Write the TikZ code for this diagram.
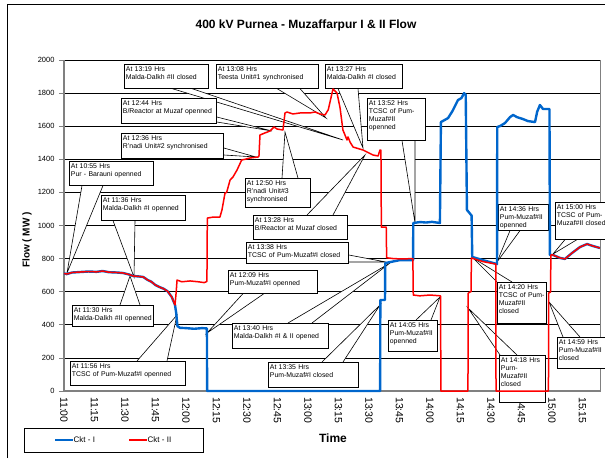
\documentclass[tikz,border=0pt]{standalone}
\usepackage{fontspec}
\setmainfont{Liberation Sans}
\usetikzlibrary{calc}

\definecolor{cktblue}{RGB}{0,102,204}
\definecolor{cktred}{RGB}{255,0,0}
\definecolor{axisgray}{RGB}{128,128,128}

\pgfdeclarelayer{gridlayer}
\pgfdeclarelayer{wedgelayer}
\pgfsetlayers{gridlayer,wedgelayer,main}

\tikzset{
  callout/.style={draw, fill=white, line width=0.6pt, anchor=north west, align=left,
    inner xsep=1.6pt, inner ysep=2.4pt, text height=5pt, font=\fontsize{6.9}{8}\selectfont},
  wedge/.style={draw, fill=white, line width=0.6pt},
  grid line/.style={line width=0.8pt},
  ckt1/.style={cktblue, line width=2.4pt, line join=round},
  ckt2/.style={cktred, line width=1.5pt, line join=round},
}

\begin{document}
\begin{tikzpicture}[x=1pt,y=-1pt]
\useasboundingbox (0,0) rectangle (605,458);

% frame, grid and axes
\begin{pgfonlayer}{gridlayer}
\draw[line width=0.8pt] (7,458) -- (7,4) -- (605,4);
\begin{scope}[shift={(64,391)}, x=2.033pt, y=0.1655pt]
\foreach \v in {200,400,...,2000}
  \draw[grid line] (0,\v) -- (264,\v);
\foreach \v in {0,200,...,2000}
  \draw[axisgray, line width=0.8pt] (-2.5,\v) -- (0,\v);
\draw[axisgray, line width=1.2pt] (0,2000) -- (0,0);
\draw[axisgray, line width=1pt] (264,0) -- (264,2000);
\draw[axisgray, line width=1.8pt] (0,0) -- (264,0);
\end{scope}
\end{pgfonlayer}

\node[font=\bfseries\fontsize{12}{14}\selectfont] (title) at (306,25) {400 kV Purnea - Muzaffarpur I \& II Flow};
\node[rotate=90, font=\bfseries\fontsize{10}{12}\selectfont] (ytitle) at (27,240) {Flow ( MW )};
\node[font=\bfseries\fontsize{12}{14}\selectfont] (xtitle) at (333,438) {Time};

\begin{scope}[shift={(64,391)}, x=2.033pt, y=0.1655pt]
\foreach \v in {0,200,...,2000}
  \node[anchor=east, inner sep=0pt, font=\fontsize{7.5}{9}\selectfont] (ylab\v) at (-4.6,\v) {\v};
\foreach \m/\lab in {0/11:00,15/11:15,30/11:30,45/11:45,60/12:00,75/12:15,90/12:30,105/12:45,120/13:00,
    135/13:15,150/13:30,165/13:45,180/14:00,195/14:15,210/14:30,225/14:45,240/15:00,255/15:15}
  \node[rotate=-90, anchor=west, inner sep=0pt, font=\fontsize{10.5}{12}\selectfont] (tlab\m) at (\m,-36) {\lab};
\end{scope}

% callout boxes
\node[callout, text width=81pt, text depth=14.2pt] (c1319) at (124,64) {At 13:19 Hrs\\Malda-Dalkh \#II closed};
\node[callout, text width=99pt, text depth=14.2pt] (c1308) at (216,64) {At 13:08 Hrs\\Teesta Unit\#1 synchronised};
\node[callout, text width=74pt, text depth=14.2pt] (c1327) at (325,64) {At 13:27 Hrs\\Malda-Dalkh \#I closed};
\node[callout, text width=92pt, text depth=15.2pt] (c1244) at (121,98) {At 12:44 Hrs\\B/Reactor at Muzaf openned};
\node[callout, text width=99pt, text depth=15.2pt] (c1236) at (121,133) {At 12:36 Hrs\\R'nadi Unit\#2 synchronised};
\node[callout, text width=81pt, text depth=14.2pt] (c1055) at (69,161) {At 10:55 Hrs\\Pur - Barauni openned};
\node[callout, text width=81pt, text depth=15.2pt] (c1136) at (101,195) {At 11:36 Hrs\\Malda-Dalkh \#I openned};
\node[callout, text width=78pt, text depth=11.2pt] (c1130) at (72,305) {At 11:30 Hrs\\Malda-Dalkh \#II openned};
\node[callout, text width=112pt, text depth=14.2pt] (c1156) at (70,361) {At 11:56 Hrs\\TCSC of Pum-Muzaf\#I openned};
\node[callout, text width=86pt, text depth=13.2pt] (c1209) at (228,270) {At 12:09 Hrs\\Pum-Muzaf\#I openned};
\node[callout, text width=93pt, text depth=15.2pt] (c1340) at (232,323) {At 13:40 Hrs\\Malda-Dalkh \#I \& II opened};
\node[callout, text width=87pt, text depth=15.2pt] (c1335) at (268,362) {At 13:35 Hrs\\Pum-Muzaf\#I closed};
\node[callout, text width=99pt, text depth=11.2pt] (c1338) at (246,242) {At 13:38 Hrs\\TCSC of Pum-Muzaf\#I closed};
\node[callout, text width=91pt, text depth=14.2pt] (c1328) at (253,215) {At 13:28 Hrs\\B/Reactor at Muzaf closed};
\node[callout, text width=62pt, text depth=19.2pt] (c1250) at (245,178) {At 12:50 Hrs\\R'nadi Unit\#3\\synchronised};
\node[callout, text width=55pt, text depth=32.2pt] (c1352) at (367,98) {At 13:52 Hrs\\TCSC of Pum-\\Muzaf\#II\\openned};
\node[callout, text width=47pt, text depth=16.2pt] (c1436) at (498,204) {At 14:36 Hrs\\Pum-Muzaf\#II\\openned};
\node[callout, text width=54pt, text depth=27.2pt] (c1500) at (555,202) {At 15:00 Hrs\\TCSC of Pum-\\Muzaf\#II closed};
\node[callout, text width=46pt, text depth=31.2pt] (c1420) at (497,282) {At 14:20 Hrs\\TCSC of Pum-\\Muzaf\#II\\closed};
\node[callout, text width=43pt, text depth=37.2pt] (c1418) at (499,355) {At 14:18 Hrs\\Purn-\\Muzaf\#II\\closed};
\node[callout, text width=46pt, text depth=21.2pt] (c1405) at (388,320) {At 14:05 Hrs\\Pum-Muzaf\#II\\openned};
\node[callout, text width=47pt, text depth=21.2pt] (c1459) at (557,337) {At 14:59 Hrs\\Pum-Muzaf\#II\\closed};

% pointer tips
\coordinate (t1319) at (343,140);
\coordinate (t1308) at (326,118);
\coordinate (t1327) at (363,148);
\coordinate (t1244) at (272,131);
\coordinate (t1236) at (256,157);
\coordinate (t1055) at (67,273);
\coordinate (t1136) at (134,277);
\coordinate (t1130) at (130,276);
\coordinate (t1156) at (177,315);
\coordinate (t1209) at (207,333);
\coordinate (t1340) at (390,263);
\coordinate (t1335) at (380,305);
\coordinate (t1338) at (386,262);
\coordinate (t1328) at (365,155);
\coordinate (t1250) at (285,132);
\coordinate (t1352) at (415,223);
\coordinate (t1436) at (497,262);
\coordinate (t1500) at (553,254);
\coordinate (t1420) at (473,258);
\coordinate (t1418) at (468,308);
\coordinate (t1405) at (440,297);
\coordinate (t1459) at (549,302);

\begin{pgfonlayer}{wedgelayer}
\path[wedge] ($(c1319.south west)+(48,0)$) -- (t1319) -- ($(c1319.south west)+(68,0)$);
\path[wedge] ($(c1308.south west)+(61,0)$) -- (t1308) -- ($(c1308.south west)+(84,0)$);
\path[wedge] ($(c1327.south west)+(13,0)$) -- (t1327) -- ($(c1327.south west)+(33,0)$);
\path[wedge] ($(c1244.north east)+(0,19)$) -- (t1244) -- ($(c1244.north east)+(0,24)$);
\path[wedge] ($(c1236.north east)+(0,15)$) -- (t1236) -- ($(c1236.north east)+(0,22)$);
\path[wedge] ($(c1055.south west)+(13,0)$) -- (t1055) -- ($(c1055.south west)+(34,0)$);
\path[wedge] ($(c1136.south west)+(12,0)$) -- (t1136) -- ($(c1136.south west)+(34,0)$);
\path[wedge] ($(c1130.north west)+(48,0)$) -- (t1130) -- ($(c1130.north west)+(68,0)$);
\path[wedge] ($(c1156.north west)+(67,0)$) -- (t1156) -- ($(c1156.north west)+(97,0)$);
\path[wedge] ($(c1209.south west)+(15,0)$) -- (t1209) -- ($(c1209.south west)+(36,0)$);
\path[wedge] ($(c1340.north west)+(56,0)$) -- (t1340) -- ($(c1340.north west)+(80,0)$);
\path[wedge] ($(c1335.north west)+(54,0)$) -- (t1335) -- ($(c1335.north west)+(75,0)$);
\path[wedge] ($(c1338.north east)+(0,13)$) -- (t1338) -- ($(c1338.north east)+(0,20)$);
\path[wedge] ($(c1328.north west)+(54,0)$) -- (t1328) -- ($(c1328.north west)+(80,0)$);
\path[wedge] ($(c1250.north west)+(37,0)$) -- (t1250) -- ($(c1250.north west)+(53,0)$);
\path[wedge] ($(c1352.south west)+(35,0)$) -- (t1352) -- ($(c1352.south west)+(48,0)$);
\path[wedge] ($(c1436.south west)+(12,0)$) -- (t1436) -- ($(c1436.south west)+(22,0)$);
\path[wedge] ($(c1500.south west)+(10,0)$) -- (t1500) -- ($(c1500.south west)+(22,0)$);
\path[wedge] ($(c1420.north west)+(0,0)$) -- (t1420) -- ($(c1420.north west)+(15,0)$);
\path[wedge] ($(c1418.north west)+(1,0)$) -- (t1418) -- ($(c1418.north west)+(18,0)$);
\path[wedge] ($(c1405.north west)+(28,0)$) -- (t1405) -- ($(c1405.north west)+(43,0)$);
\path[wedge] ($(c1459.north west)+(6,0)$) -- (t1459) -- ($(c1459.north west)+(23,0)$);
\end{pgfonlayer}

% flows
\begin{scope}[shift={(64,391)}, x=2.033pt, y=0.1655pt]
\draw[ckt1] (0,710) -- (1.5,707) -- (4,716) -- (8,719) -- (12,722) -- (16,720) -- (19,725) -- (22,718) -- (26,716)
  -- (29,713) -- (32,704) -- (34,695) -- (37,692) -- (39,689) -- (41,672) -- (43,660) -- (45,640) -- (47,628)
  -- (49,618) -- (51,602) -- (53,568) -- (54.6,520) -- (55.2,470) -- (55.8,392) -- (57,382) -- (60,380)
  -- (64,376) -- (68,380) -- (70.3,378) -- (70.4,0) -- (155.5,0) -- (155.6,550) -- (157.9,550) -- (158,773)
  -- (160.4,779) -- (165.3,791) -- (171.7,791) -- (171.8,1015) -- (175.1,1021) -- (178,1018) -- (181,1022)
  -- (184.9,1015) -- (185.4,1625) -- (188.9,1649) -- (191,1690) -- (193.8,1758) -- (195.5,1770) -- (196.8,1800)
  -- (197.6,1790) -- (198.2,1094) -- (200.5,1060) -- (200.8,810) -- (206,791) -- (213,767) -- (213.1,1595)
  -- (214.5,1601) -- (216.9,1619) -- (219.4,1655) -- (220.9,1668) -- (222.8,1655) -- (225.8,1643) -- (228.2,1631)
  -- (231.7,1625) -- (232.7,1686) -- (234.1,1728) -- (235.6,1704) -- (238.8,1704) -- (239,822) -- (240.5,822)
  -- (244,804) -- (246.4,798) -- (249.9,834) -- (253.8,870) -- (257.3,888) -- (260.2,876) -- (263.6,864);
\draw[ckt2] (0,710) -- (1.5,707) -- (4,716) -- (8,719) -- (12,722) -- (16,720) -- (19,725) -- (22,718) -- (26,716)
  -- (29,713) -- (32,704) -- (34,695) -- (37,692) -- (39,689) -- (41,672) -- (43,660) -- (45,640) -- (47,628)
  -- (49,618) -- (51,602) -- (53,568) -- (54.6,520) -- (55.2,600) -- (55.6,670) -- (58,660) -- (62,665)
  -- (66,660) -- (69,655) -- (70.3,662) -- (70.5,1045) -- (73,1050) -- (76.7,1051) -- (77.7,1094) -- (79.2,1196)
  -- (80,1200) -- (81.7,1275) -- (83.1,1293) -- (85.1,1335) -- (87.4,1396) -- (89,1400) -- (91.5,1408)
  -- (95.4,1414) -- (95.9,1420) -- (96.4,1547) -- (99,1560) -- (101.3,1571) -- (103.3,1595) -- (104.8,1583)
  -- (107.7,1577) -- (108.7,1680) -- (109.7,1686) -- (112.6,1674) -- (116.1,1680) -- (121,1680) -- (123.5,1686)
  -- (125.9,1674) -- (128.4,1668) -- (130,1700) -- (132.3,1825) -- (134.3,1800) -- (135.8,1710) -- (137.2,1577)
  -- (139.2,1517) -- (139.7,1535) -- (140.7,1504) -- (142.2,1474) -- (147.1,1456) -- (152,1426) -- (154.5,1420)
  -- (155.4,1456) -- (155.9,1456) -- (156.1,990) -- (158.5,990) -- (158.7,805) -- (162,800) -- (166,798)
  -- (171.6,800) -- (171.8,580) -- (175,575) -- (180,580) -- (185.2,575) -- (185.4,0) -- (198.7,0) -- (198.8,590)
  -- (199.6,598) -- (200.2,600) -- (200.4,804) -- (206,782) -- (212.4,767) -- (212.5,0) -- (238.3,0)
  -- (238.4,592) -- (239.3,598) -- (239.5,822) -- (240.5,822) -- (244,804) -- (246.4,798) -- (249.9,834)
  -- (253.8,870) -- (257.3,888) -- (260.2,876) -- (263.6,864);
\end{scope}

% legend
\node[draw, line width=0.8pt, minimum width=179pt, minimum height=24pt, anchor=north west] (legend) at (24,428) {};
\coordinate (l1a) at (55,440);
\coordinate (l1b) at (73,440);
\coordinate (l2a) at (129,440);
\coordinate (l2b) at (147,440);
\draw[ckt1] (l1a) -- (l1b);
\draw[ckt2] (l2a) -- (l2b);
\node[anchor=west, inner sep=0.5pt, font=\fontsize{8}{10}\selectfont] (leg1) at (l1b) {Ckt - I};
\node[anchor=west, inner sep=0.5pt, font=\fontsize{8}{10}\selectfont] (leg2) at (l2b) {Ckt - II};
\end{tikzpicture}
\end{document}
